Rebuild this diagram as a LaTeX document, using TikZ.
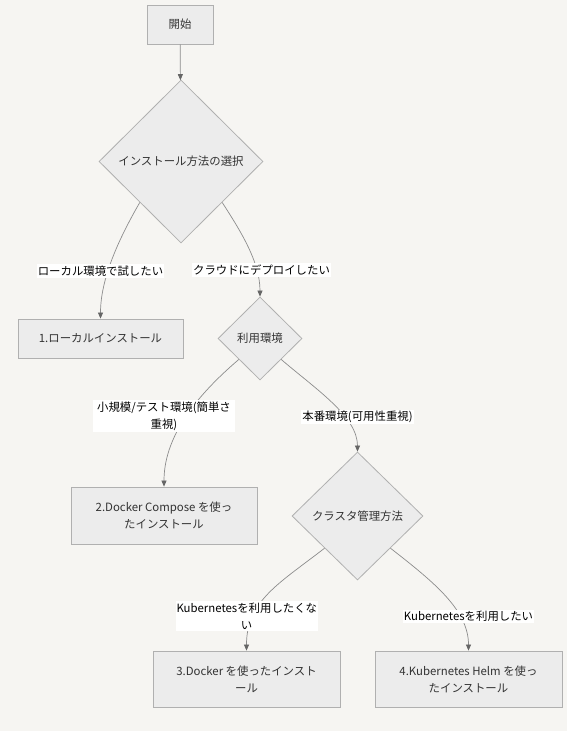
\documentclass[tikz,border=0pt]{standalone}
\usepackage{fontspec}
\setmainfont{Noto Sans CJK JP}
\usepackage{tikz}
\usetikzlibrary{shapes.geometric, arrows.meta}
\definecolor{bgcol}{HTML}{F6F5F2}
\definecolor{boxfill}{HTML}{ECECEC}
\definecolor{boxline}{HTML}{B0B0B0}
\definecolor{edgecol}{HTML}{8C8C8C}
\definecolor{tipcol}{HTML}{666666}
\definecolor{txtcol}{HTML}{333333}
\newcommand{\flowfont}{\fontsize{11.4}{17}\selectfont}
\tikzstyle{process} = [rectangle, minimum width=187, minimum height=56, text centered, align=center, draw=boxline, fill=boxfill, line width=0.8pt, text=txtcol, font=\flowfont]
\tikzstyle{decision} = [diamond, inner sep=0pt, text centered, draw=boxline, fill=boxfill, line width=0.8pt, text=txtcol, font=\flowfont]
\tikzstyle{arrow} = [draw=edgecol, line width=0.7pt, -{Stealth[length=6pt, width=5pt, inset=0pt, color=tipcol]}]
\tikzstyle{lbl} = [fill=white, inner xsep=1pt, inner ysep=1.5pt, align=center, text=black, font=\flowfont]

\begin{document}
\begin{tikzpicture}[x=1pt, y=1pt]

\fill [bgcol] (0,0) rectangle (567,-731);

\node (start) [process, minimum width=66, minimum height=39] at (180,-24.5) {開始};
\node (dec1) [decision, minimum width=164, minimum height=163] at (181,-161.5) {インストール方法の選択};
\node (pro1) [process, minimum width=165, minimum height=39] at (100.5,-338.5) {1.ローカルインストール};
\node (dec2) [decision, minimum width=84, minimum height=83] at (260,-338.5) {利用環境};
\node (pro2) [process, minimum width=186, minimum height=57] at (164,-515.5) {2.Docker Compose を使っ\\たインストール};
\node (dec3) [decision, minimum width=131, minimum height=128] at (357.5,-516) {クラスタ管理方法};
\node (pro3) [process] at (246.5,-679) {3.Docker を使ったインスト\\ール};
\node (pro4) [process] at (468.5,-679) {4.Kubernetes Helm を使っ\\たインストール};

\draw [arrow] (start) -- (dec1);
\draw [arrow] (dec1.south west) .. controls +(-22,-38) and +(0,39) .. (pro1.north);
\draw [arrow] (dec1.south east) .. controls +(18,-28) and +(0,35) .. (dec2.north);
\draw [arrow] (dec2.south west) .. controls +(-35,-30) and +(0,55) .. (pro2.north);
\draw [arrow] (dec2.south east) .. controls +(35,-30) and +(0,35) .. (dec3.north);
\draw [arrow] (dec3.south west) .. controls +(-45,-35) and +(0,50) .. (pro3.north);
\draw [arrow] (dec3.south east) .. controls +(45,-35) and +(0,40) .. (pro4.north);

% edge labels on top of the lines
\node (yes1) [lbl] at (100.5,-271) {ローカル環境で試したい};
\node (no1) [lbl] at (261.5,-270) {クラウドにデプロイしたい};
\node (yes2) [lbl, text width=140] at (164,-416) {小規模/テスト環境(簡単さ\\重視)};
\node (no2) [lbl] at (357.5,-417) {本番環境(可用性重視)};
\node (yes3) [lbl, text width=140] at (246.5,-616) {Kubernetesを利用したくな\\い};
\node (no3) [lbl] at (468.5,-616.5) {Kubernetesを利用したい};

\end{tikzpicture}
\end{document}
